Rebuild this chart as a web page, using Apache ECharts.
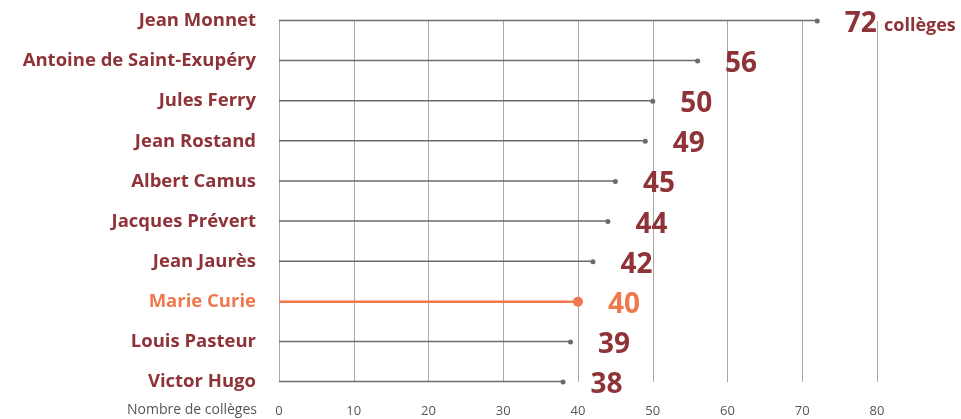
<!DOCTYPE html>
<html>
<head>
<meta charset="utf-8">
<script src="https://cdn.jsdelivr.net/npm/echarts@6/dist/echarts.min.js"></script>
<style>
  html, body { margin: 0; padding: 0; background: #ffffff; }
  #main { width: 961px; height: 419px; }
</style>
</head>
<body>
<div id="main"></div>
<script>
// collèges par nom
var colleges = ['Jean Monnet', 'Antoine de Saint-Exupéry', 'Jules Ferry', 'Jean Rostand', 'Albert Camus',
  'Jacques Prévert', 'Jean Jaurès', 'Marie Curie', 'Louis Pasteur', 'Victor Hugo'];
var counts = [72, 56, 50, 49, 45, 44, 42, 40, 39, 38];
var highlight = 'Marie Curie';
var ticks = [0, 10, 20, 30, 40, 50, 60, 70, 80];

var red = '#8e3338';
var orange = '#f0784f';
var grey = '#6b6b6b';
var font = 'Open Sans';

var chart = echarts.init(document.getElementById('main'), null, { renderer: 'canvas' });

// lignes grises / ligne orange
var greyLine = counts.map(function (v, i) { return colleges[i] === highlight ? null : v; });
var orangeLine = counts.map(function (v, i) { return colleges[i] === highlight ? v : null; });

var option = {
  backgroundColor: '#ffffff',
  animation: false,
  grid: { left: 279, right: 84, top: 21, bottom: 37, containLabel: false, outerBoundsMode: 'none' },
  xAxis: {
    type: 'value',
    min: ticks[0],
    max: ticks[ticks.length - 1],
    interval: 10,
    axisLine: { show: false },
    axisTick: { show: false },
    splitLine: { show: true, lineStyle: { color: '#a8a8a8', width: 1 } },
    axisLabel: { color: '#555555', fontFamily: font, fontSize: 13, margin: 23 }
  },
  yAxis: {
    type: 'category',
    inverse: true,
    boundaryGap: false,
    data: colleges,
    axisLine: { show: false },
    axisTick: { show: false },
    axisLabel: {
      margin: 23,
      fontFamily: font,
      fontWeight: 'bold',
      fontSize: 18.5,
      color: function (val) { return val === highlight ? orange : red; }
    }
  },
  graphic: [{
    type: 'text',
    right: 961 - 257,
    top: 403,
    style: { text: 'Nombre de collèges', fill: '#555555', font: '14px "Open Sans"' }
  }],
  series: [
    {
      type: 'bar',
      data: greyLine,
      barWidth: 1.5,
      barGap: '-100%',
      itemStyle: { color: grey },
      silent: true
    },
    {
      type: 'bar',
      data: orangeLine,
      barWidth: 2.5,
      itemStyle: { color: orange },
      silent: true
    },
    {
      type: 'scatter',
      data: counts.map(function (v, i) {
        var hi = colleges[i] === highlight;
        return {
          value: [v, i],
          symbolSize: hi ? 10 : 5,
          itemStyle: { color: hi ? orange : grey, opacity: 1 },
          label: { color: hi ? orange : red }
        };
      }),
      itemStyle: { opacity: 1 },
      label: {
        show: true,
        position: 'right',
        distance: 25,
        offset: [0, 3],
        fontFamily: font,
        fontWeight: 'bold',
        fontSize: 28,
        formatter: function (p) {
          if (p.dataIndex === 0) return '{v|' + p.value[0] + '} {u|collèges}';
          return String(p.value[0]);
        },
        rich: {
          v: { fontFamily: font, fontWeight: 'bold', fontSize: 28, color: red },
          u: { fontFamily: font, fontWeight: 'bold', fontSize: 18, color: red, padding: [4, 0, 0, 0] }
        }
      },
      z: 5
    }
  ]
};

chart.setOption(option);
</script>
</body>
</html>
